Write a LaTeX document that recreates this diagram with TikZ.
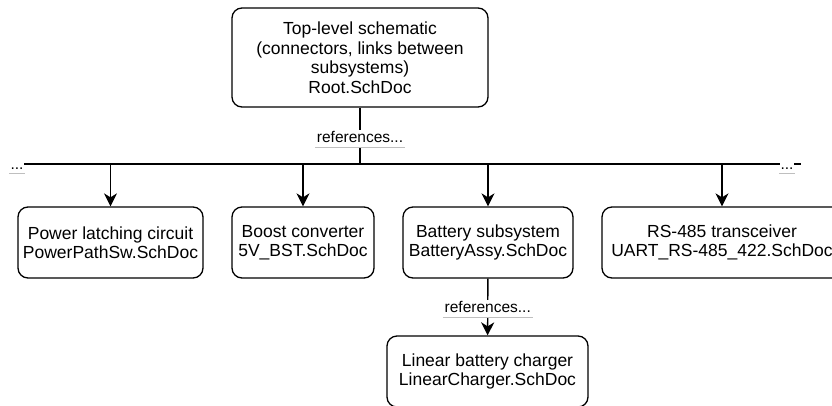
\documentclass[tikz,border=0pt]{standalone}
\usepackage{fontspec}
\setmainfont{Liberation Sans}
\usetikzlibrary{arrows.meta}

\begin{document}
\begin{tikzpicture}[x=1pt, y=-1pt,
		block/.style={draw, rounded corners=10pt, line width=1.3pt, align=center, inner sep=0pt, minimum height=71pt, font=\fontsize{17.5}{19.5}\selectfont},
		lbl/.style={fill=white, inner sep=1pt, text height=11pt, text depth=3.5pt, font=\fontsize{15.5}{18}\selectfont},
		uline/.style={draw=black!25, line width=1pt},
		wire/.style={line width=1.4pt},
		link/.style={wire, -{Stealth[length=13pt, width=13pt, inset=4pt]}}]
	\useasboundingbox (0,0) rectangle (832,405);
		\node[block, minimum width=256pt, minimum height=99pt] (root) at (360,57.5) {Top-level schematic\\(connectors, links between\\subsystems)\\Root.SchDoc};
		\node[block, minimum width=185pt] (latch) at (110.5,242.5) {Power latching circuit\\PowerPathSw.SchDoc};
		\node[block, minimum width=142pt] (boost) at (303,242.5) {Boost converter\\5V\_BST.SchDoc};
		\node[block, minimum width=170pt] (batt) at (488,242.5) {Battery subsystem\\BatteryAssy.SchDoc};
		\node[block, minimum width=240pt] (rs485) at (722,242.5) {RS-485 transceiver\\UART\_RS-485\_422.SchDoc};
		\node[block, minimum width=201pt] (charger) at (487.5,371.5) {Linear battery charger\\LinearCharger.SchDoc};
	% bus
	\coordinate (busL) at (11,164);
	\coordinate (busR) at (801,164);
	\draw[wire] (busL) -- (busR);
	\node[lbl] (dotsL) at (17,165.3) {...};
	\node[lbl] (dotsR) at (787,165.3) {...};
	\draw[uline] (dotsL.south west) -- (dotsL.south east);
	\draw[uline] (dotsR.south west) -- (dotsR.south east);
	% root to bus
	\draw[wire] (root) -- (root |- busL) node[lbl, pos=0.55] (ref1) {references...};
	\draw[uline] (ref1.south west) -- (ref1.south east);
	\foreach \n in {latch, boost, batt, rs485}
		\draw[link] (\n |- busL) -- (\n);
	% battery to charger
	\draw[link] (batt) -- (charger) node[lbl, pos=0.53] (ref2) {references...};
	\draw[uline] (ref2.south west) -- (ref2.south east);
\end{tikzpicture}
\end{document}
